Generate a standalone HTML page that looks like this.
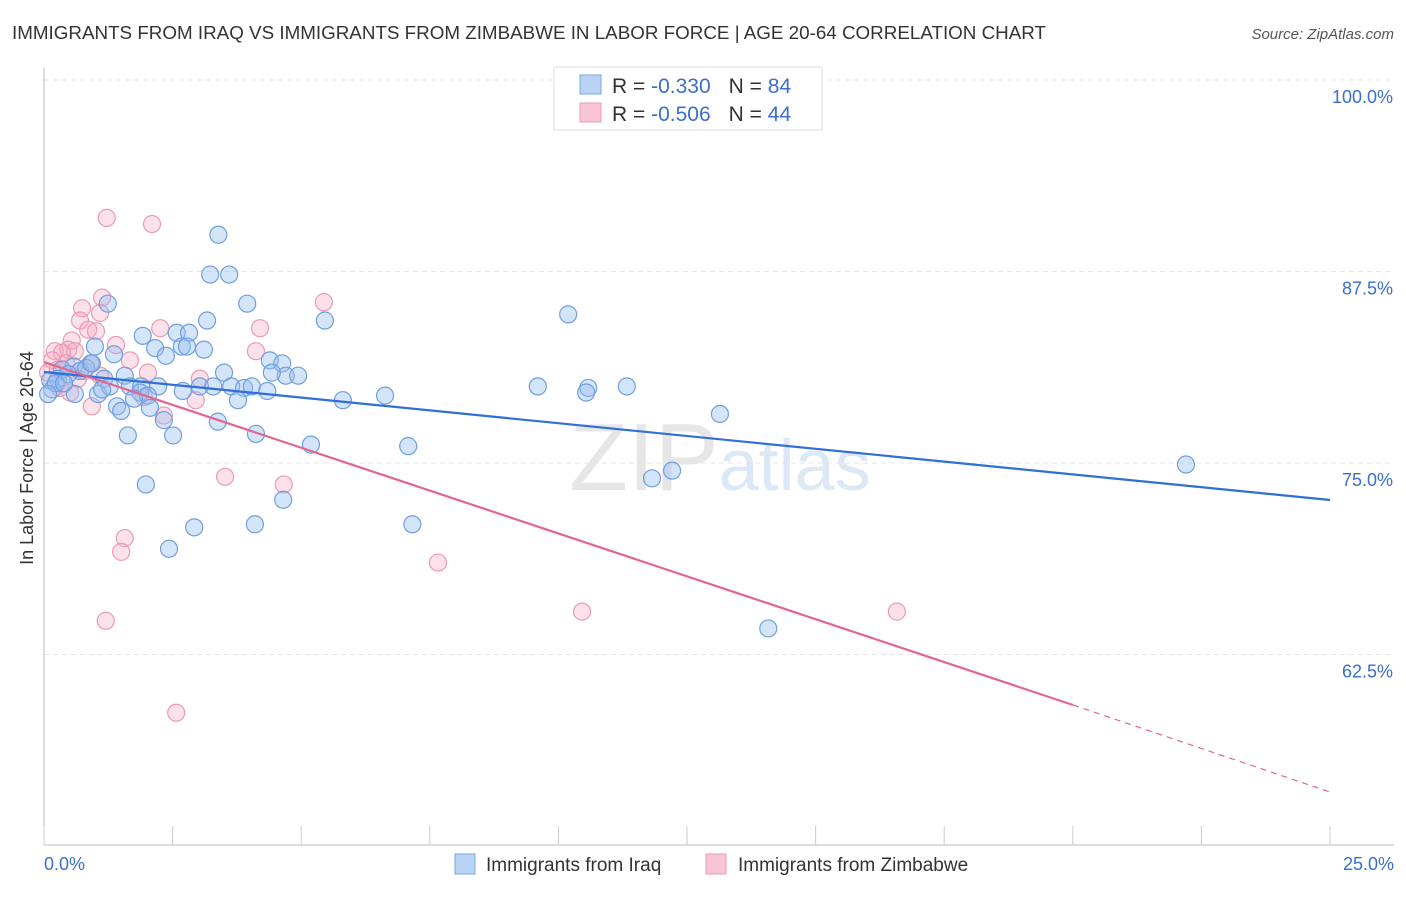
<!DOCTYPE html>
<html><head><meta charset="utf-8">
<style>
body{margin:0;background:#fff;font-family:"Liberation Sans",sans-serif}
svg text{font-family:"Liberation Sans",sans-serif}
</style></head>
<body>
<svg width="1406" height="892" xmlns="http://www.w3.org/2000/svg" id="svg">
<text x="12" y="39" font-size="18" fill="#333" textLength="1034" lengthAdjust="spacingAndGlyphs">IMMIGRANTS FROM IRAQ VS IMMIGRANTS FROM ZIMBABWE IN LABOR FORCE | AGE 20-64 CORRELATION CHART</text>
<text x="1394" y="39" font-size="15" fill="#555" text-anchor="end" font-style="italic">Source: ZipAtlas.com</text>
<text x="720" y="490" font-size="96" fill="#e6e6e6" text-anchor="middle" font-family="Liberation Serif">ZIP<tspan fill="#dce8f5" font-family="Liberation Sans" font-size="72">atlas</tspan></text>
<text transform="translate(33,458) rotate(-90)" font-size="18" fill="#333" text-anchor="middle">In Labor Force | Age 20-64</text>
<g id="grid"></g>
<g id="axes"></g>
<g id="pts"></g>
<g id="lines"></g>
<g>
<rect x="554" y="67" width="268" height="63" fill="#fff" stroke="#ddd"/>
<rect x="580" y="75" width="21" height="19" fill="#b9d3f5" stroke="#7aa7e0"/>
<rect x="580" y="103" width="21" height="19" fill="#f9c5d4" stroke="#eb9bb3"/>
<text x="612" y="93" font-size="21" fill="#333">R = <tspan fill="#3a6fd0">-0.330</tspan><tspan dx="18">N = </tspan><tspan fill="#3a6fd0">84</tspan></text>
<text x="612" y="121" font-size="21" fill="#333">R = <tspan fill="#3a6fd0">-0.506</tspan><tspan dx="18">N = </tspan><tspan fill="#3a6fd0">44</tspan></text>
</g>
<g>
<rect x="455" y="854" width="20" height="20" fill="#b9d3f5" stroke="#7aa7e0"/>
<text x="486" y="871" font-size="19" fill="#333">Immigrants from Iraq</text>
<rect x="706" y="854" width="20" height="20" fill="#f9c5d4" stroke="#eb9bb3"/>
<text x="738" y="871" font-size="19" fill="#333">Immigrants from Zimbabwe</text>
</g>
</svg>
<script>
const yTicks=[100,87.5,75,62.5];
const yTickLabels=["100.0%","87.5%","75.0%","62.5%"];
const xTickLabels=["0.0%","25.0%"];
const iraqX=[3.39,3.23,3.60,1.24,3.95,5.46,3.17,10.19,1.92,2.58,2.82,0.99,2.16,2.68,2.78,3.11,2.37,1.36,4.39,4.63,0.91,0.58,0.35,0.70,3.50,4.70,4.94,4.43,1.17,1.57,1.67,1.89,2.22,3.03,3.29,3.64,3.89,4.04,4.34,2.70,1.87,2.02,1.05,3.77,5.81,6.63,9.60,10.58,10.54,11.33,0.27,0.16,1.42,1.50,2.06,2.33,3.38,1.63,2.51,4.12,5.19,7.08,13.14,1.98,11.82,12.21,22.20,2.92,4.10,7.16,4.65,2.43,14.08,0.12,0.47,0.82,1.28,0.23,0.60,0.93,1.13,0.08,0.39,1.75];
const iraqY=[89.9,87.3,87.3,85.4,85.4,84.3,84.3,84.7,83.3,83.5,83.5,82.6,82.5,82.6,82.6,82.4,82.0,82.1,81.7,81.5,81.5,81.3,81.1,81.0,80.9,80.7,80.7,80.9,80.5,80.7,80.0,80.0,80.0,80.0,80.0,80.0,79.9,80.0,79.7,79.7,79.6,79.4,79.5,79.1,79.1,79.4,80.0,79.9,79.6,80.0,80.5,79.8,78.7,78.4,78.6,77.8,77.7,76.8,76.8,76.9,76.2,76.1,78.2,73.6,74.0,74.5,74.9,70.8,71.0,71.0,72.6,69.4,64.2,80.4,80.8,81.2,80.0,80.2,79.5,81.5,79.8,79.5,80.2,79.2];
const zimX=[1.22,2.10,5.44,1.13,0.74,0.70,1.09,4.20,2.26,0.86,1.01,0.54,0.47,0.60,0.21,0.35,1.40,1.67,4.12,0.43,0.16,0.93,0.78,1.09,2.02,3.03,0.31,0.51,0.93,1.94,2.33,2.95,3.52,4.66,1.57,1.50,7.66,10.46,16.58,1.20,2.57,0.08,0.27,0.66];
const zimY=[91.0,90.6,85.5,85.8,85.1,84.3,84.8,83.8,83.8,83.7,83.6,83.0,82.4,82.3,82.3,82.2,82.7,81.7,82.3,81.5,81.7,81.5,81.0,80.7,80.9,80.5,79.9,79.6,78.7,79.3,78.1,79.1,74.1,73.6,70.1,69.2,68.5,65.3,65.3,64.7,58.7,80.9,81.1,80.5];
const ax=v=>44+v*51.44, ay=v=>80+(100-v)*15.32;
const NS="http://www.w3.org/2000/svg";
function mk(t,a,p){const e=document.createElementNS(NS,t);for(const k in a)e.setAttribute(k,a[k]);p.appendChild(e);return e;}
const grid=document.getElementById('grid'),axes=document.getElementById('axes');
yTicks.forEach((t,i)=>{
 const g=mk('line',{x1:44,x2:1394,y1:ay(t),y2:ay(t),stroke:'#e4e4e4','stroke-dasharray':'5,4'},grid);
 
 
 const l=mk('text',{x:1393,y:ay(t)+23,'font-size':18,fill:'#3a6fd0','text-anchor':'end'},axes);
 l.textContent=yTickLabels[i];
 
 
});
const ya=mk('line',{x1:44,x2:44,y1:68,y2:845,stroke:'#bbb'},axes);


const xa=mk('line',{x1:44,x2:1394,y1:845,y2:845,stroke:'#bbb'},axes);


for(let i=0;i<=10;i++){const t=mk('line',{x1:ax(i*2.5),x2:ax(i*2.5),y1:826,y2:845,stroke:'#ccc'},axes);
 
 }
[[0,44,'start'],[25,1394,'end']].forEach((d,i)=>{const l=mk('text',{x:d[1],y:870,'font-size':18,fill:'#3a6fd0','text-anchor':d[2]},axes);l.textContent=xTickLabels[i];
 
 });
const pts=document.getElementById('pts');
zimX.forEach((x,i)=>{const c=mk('circle',{cx:ax(x),cy:ay(zimY[i]),r:8.5,fill:'rgba(246,170,195,0.35)',stroke:'#ec9ab4','stroke-width':1.2},pts);
 
 });
iraqX.forEach((x,i)=>{const c=mk('circle',{cx:ax(x),cy:ay(iraqY[i]),r:8.5,fill:'rgba(150,190,240,0.4)',stroke:'#6f9fe0','stroke-width':1.2},pts);
 
 });
const lines=document.getElementById('lines');
const bl=mk('line',{x1:ax(0),y1:372,x2:ax(25),y2:500,stroke:'#2f6fd6','stroke-width':2.2},lines);


const pl=mk('line',{x1:ax(0),y1:362,x2:1073,y2:705,stroke:'#e2668f','stroke-width':2.2},lines);


const pd=mk('line',{x1:1073,y1:705,x2:ax(25),y2:792,stroke:'#e2668f','stroke-width':1.2,'stroke-dasharray':'6,5'},lines);


</script>
</body></html>
